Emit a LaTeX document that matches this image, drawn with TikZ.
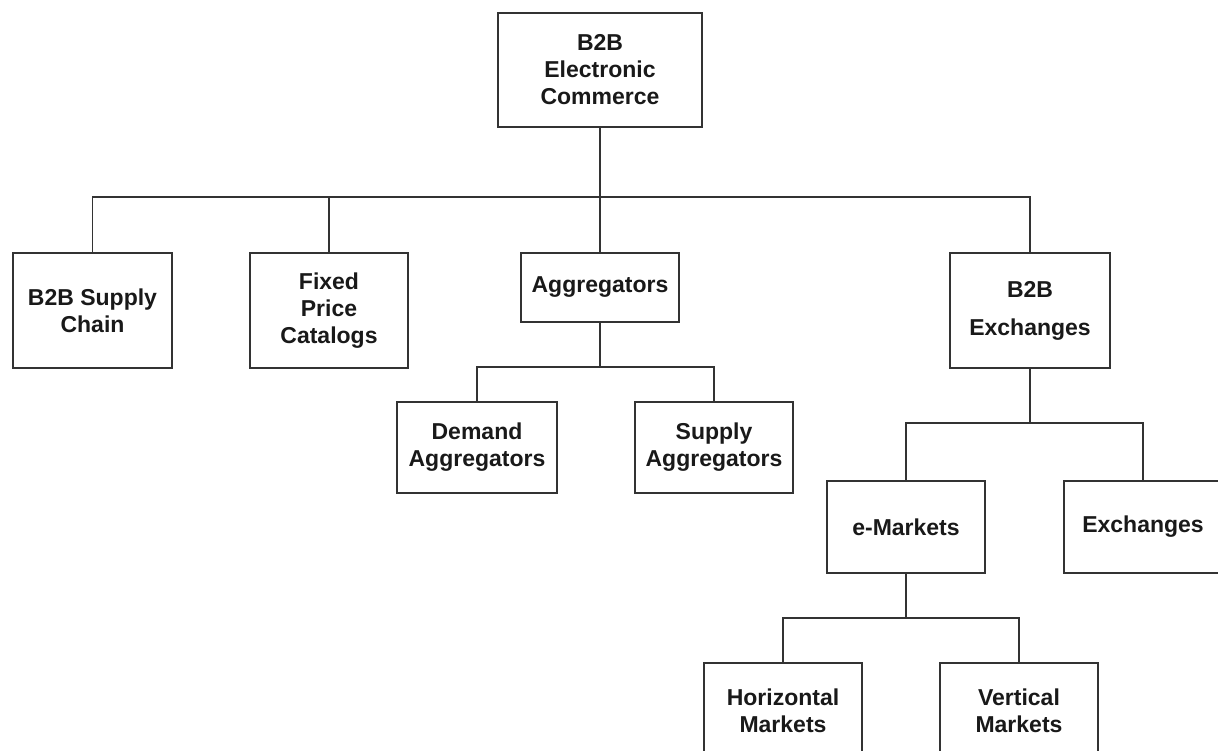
\documentclass[tikz,border=0pt]{standalone}
\usepackage{fontspec}
\setmainfont{Liberation Sans}
\begin{document}
\begin{tikzpicture}[x=1pt,y=-1pt,
  box/.style={draw=black!80,line width=1.4pt,fill=white,align=center,inner sep=0pt,
    font=\bfseries\fontsize{23}{27}\selectfont,text=black!90,
    minimum width=158pt},
  link/.style={draw=black!80,line width=1.4pt}]
\fill[white] (0,0) rectangle (1218,750);
\useasboundingbox (0,0) rectangle (1218,750);
\clip (0,0) rectangle (1218,750);
% bus levels
\coordinate (bus1) at (0,197);
\coordinate (bus2) at (0,367);
\coordinate (bus3) at (0,423);
\coordinate (bus4) at (0,618);
% boxes
\node[box,minimum width=204pt,minimum height=114pt] (ec) at (600,70) {B2B\\Electronic\\Commerce};
\node[box,minimum width=159pt,minimum height=115pt] (sc) at (92.5,310.5) {B2B Supply\\Chain};
\node[box,minimum height=115pt] (fp) at (329,310.5) {Fixed\\Price\\Catalogs};
\node[box,minimum height=69pt] (ag) at (600,287.5) {Aggregators};
\node[box,minimum width=160pt,minimum height=115pt] (bx) at (1030,310.5) {B2B\\[11pt]Exchanges};
\node[box,minimum width=160pt,minimum height=91pt] (da) at (477,447.5) {Demand\\Aggregators};
\node[box,minimum height=91pt] (sa) at (714,447.5) {Supply\\Aggregators};
\node[box,minimum height=92pt] (em) at (906,527) {e-Markets};
\node[box,minimum height=92pt] (ex) at (1143,527) {Exchanges};
\node[box,minimum height=96pt] (hm) at (783,711) {Horizontal\\Markets};
\node[box,minimum height=96pt] (vm) at (1019,711) {Vertical\\Markets};
% connectors
\draw[link] (ec.south) -- (ag.north);
\draw[link] (sc.north) -- (sc.north |- bus1) -- (bx.north |- bus1) -- (bx.north);
\draw[link] (fp.north) -- (fp.north |- bus1);
\draw[link] (ag.south) -- (ag.south |- bus2);
\draw[link] (da.north) -- (da.north |- bus2) -- (sa.north |- bus2) -- (sa.north);
\draw[link] (bx.south) -- (bx.south |- bus3);
\draw[link] (em.north) -- (em.north |- bus3) -- (ex.north |- bus3) -- (ex.north);
\draw[link] (em.south) -- (em.south |- bus4);
\draw[link] (hm.north) -- (hm.north |- bus4) -- (vm.north |- bus4) -- (vm.north);
\end{tikzpicture}
\end{document}
